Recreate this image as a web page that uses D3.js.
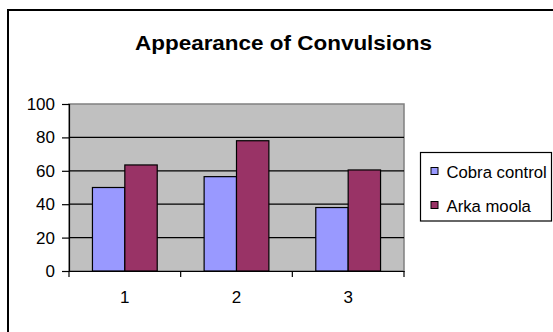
<!DOCTYPE html>
<html>
<head>
<meta charset="utf-8">
<script src="https://cdn.jsdelivr.net/npm/d3@7"></script>
<style>
  body { margin: 0; background: #fff; }
  text { font-family: "Liberation Sans", Arial, sans-serif; }
</style>
</head>
<body>
<svg id="chart"></svg>
<script>
// data
var categories = ["1", "2", "3"];
var seriesNames = ["Cobra control", "Arka moola"];
var cobraControl = [50, 56.5, 38];
var arkaMoola = [63.5, 78, 60.5];
var yTicks = [0, 20, 40, 60, 80, 100];
var colors = ["#9999FF", "#993366"];

var W = 553, H = 332;
var svg = d3.select("#chart").attr("width", W).attr("height", H);

// outer chart border (runs off the right and bottom edges)
svg.append("rect")
  .attr("x", 8).attr("y", 10)
  .attr("width", 600).attr("height", 400)
  .attr("fill", "none").attr("stroke", "#000").attr("stroke-width", 2);

// title
svg.append("text")
  .attr("x", 283.5).attr("y", 49.5)
  .attr("text-anchor", "middle")
  .attr("textLength", 297).attr("lengthAdjust", "spacingAndGlyphs")
  .style("font-size", "21px").style("font-weight", "bold")
  .text("Appearance of Convulsions");

var plot = { left: 69, right: 404, top: 104, bottom: 271 };

var x = d3.scaleBand().domain(categories).range([plot.left, plot.right]).padding(0);
var y = d3.scaleLinear().domain([0, 100]).range([plot.bottom, plot.top]);
var xSub = d3.scaleBand().domain(seriesNames)
  .range([x.bandwidth() * 0.21, x.bandwidth() * 0.79]).padding(0);

// plot area
svg.append("rect")
  .attr("x", plot.left).attr("y", plot.top)
  .attr("width", plot.right - plot.left).attr("height", plot.bottom - plot.top)
  .attr("fill", "#C0C0C0").attr("stroke", "#808080").attr("stroke-width", 1.5);

// gridlines
svg.append("g").selectAll("line")
  .data(yTicks.filter(function (d) { return d > 0 && d < 100; }))
  .enter().append("line")
  .attr("x1", plot.left).attr("x2", plot.right)
  .attr("y1", function (d) { return y(d); }).attr("y2", function (d) { return y(d); })
  .attr("stroke", "#000").attr("stroke-width", 1.2);

// bars
var rows = categories.map(function (c, i) {
  return { cat: c, values: [cobraControl[i], arkaMoola[i]] };
});
svg.append("g").selectAll("g")
  .data(rows)
  .enter().append("g")
  .attr("transform", function (d) { return "translate(" + x(d.cat) + ",0)"; })
  .selectAll("rect")
  .data(function (d) {
    return seriesNames.map(function (s, j) { return { key: s, value: d.values[j], idx: j }; });
  })
  .enter().append("rect")
  .attr("x", function (d) { return xSub(d.key); })
  .attr("y", function (d) { return y(d.value); })
  .attr("width", xSub.bandwidth())
  .attr("height", function (d) { return y(0) - y(d.value); })
  .attr("fill", function (d) { return colors[d.idx]; })
  .attr("stroke", "#000").attr("stroke-width", 1.2);

// y axis
var yAxis = svg.append("g")
  .attr("transform", "translate(" + plot.left + ",0)")
  .call(d3.axisLeft(y).tickValues(yTicks).tickSize(7).tickPadding(7));
yAxis.select(".domain").attr("stroke", "#000").attr("stroke-width", 1.2);
yAxis.selectAll("line").attr("stroke-width", 1.2);
yAxis.selectAll("text").style("font-size", "17px").attr("fill", "#000");

// x axis
var xAxis = svg.append("g")
  .attr("transform", "translate(0," + plot.bottom + ")")
  .call(d3.axisBottom(x).tickSize(0).tickPadding(20));
xAxis.select(".domain").attr("stroke", "#000").attr("stroke-width", 1.2);
xAxis.selectAll("text").style("font-size", "17px").attr("fill", "#000");
// category boundary ticks
xAxis.selectAll(".bound")
  .data(categories.concat(["end"]))
  .enter().append("line").attr("class", "bound")
  .attr("x1", function (d, i) { return i < categories.length ? x(d) : x.range()[1]; })
  .attr("x2", function (d, i) { return i < categories.length ? x(d) : x.range()[1]; })
  .attr("y1", 0).attr("y2", 6)
  .attr("stroke", "#000").attr("stroke-width", 1.2);

// legend
var legend = svg.append("g").attr("transform", "translate(420.5,152.5)");
legend.append("rect")
  .attr("width", 131).attr("height", 68.5)
  .attr("fill", "#fff").attr("stroke", "#000").attr("stroke-width", 1.2);
seriesNames.forEach(function (s, i) {
  var cy = 19 + i * 34;
  legend.append("rect")
    .attr("x", 10.5).attr("y", cy - 4)
    .attr("width", 7).attr("height", 7)
    .attr("fill", colors[i]).attr("stroke", "#000").attr("stroke-width", 1);
  legend.append("text")
    .attr("x", 26).attr("y", cy + 6)
    .style("font-size", "16.7px")
    .text(s);
});
</script>
</body>
</html>
